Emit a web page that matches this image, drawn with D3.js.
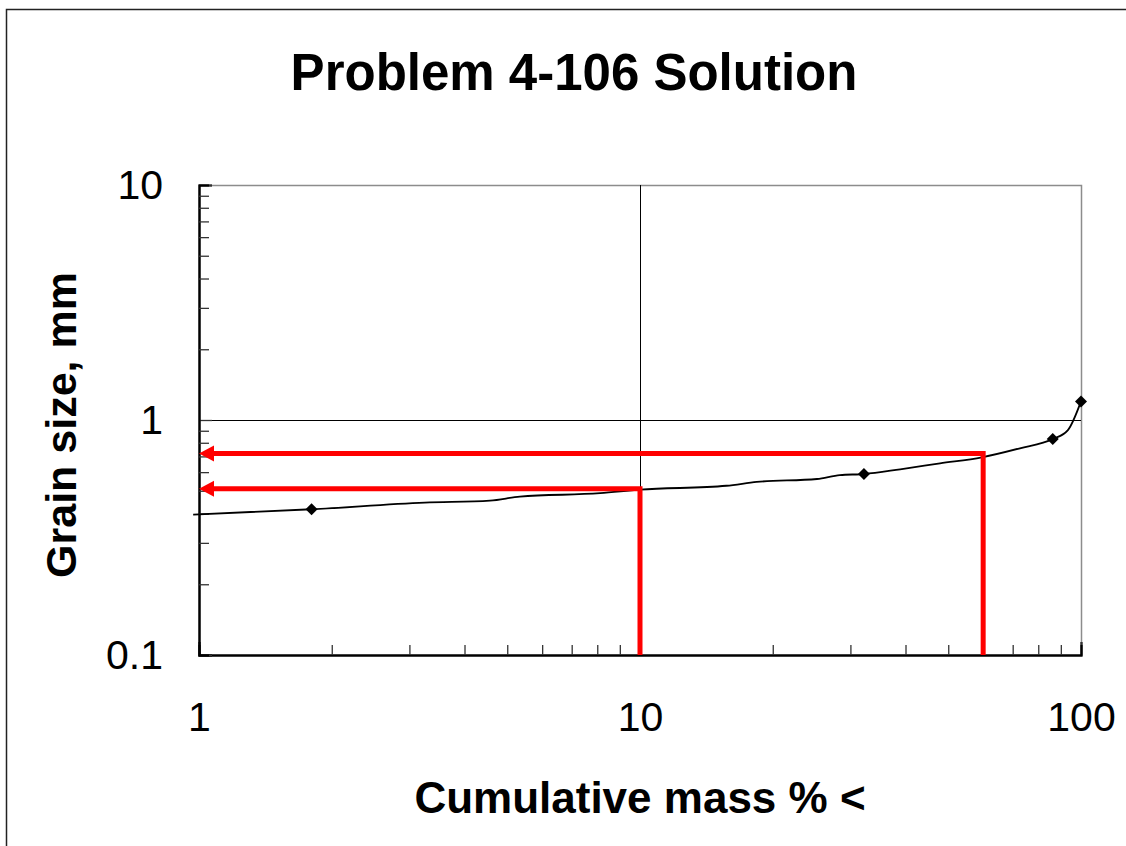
<!DOCTYPE html>
<html>
<head>
<meta charset="utf-8">
<script src="https://cdn.jsdelivr.net/npm/d3@7"></script>
<style>
  html, body { margin: 0; padding: 0; background: #fff; }
  svg { display: block; font-family: "Liberation Sans", Arial, sans-serif; }
</style>
</head>
<body>
<svg id="chart" width="1126" height="846"></svg>
<script>
// Grain size distribution: cumulative mass % finer vs. grain size (mm)
const curveMassPct = [0.97, 1.8, 3.25, 4.57, 5.34, 8.12, 10, 15.7, 18.4, 25.2, 28.4, 32.2, 38.9, 47.9, 59.6, 72.7, 86.3, 93.4, 100];
const curveSizeMm  = [0.396, 0.417, 0.445, 0.454, 0.472, 0.488, 0.505, 0.525, 0.545, 0.561, 0.583, 0.589, 0.617, 0.654, 0.694, 0.758, 0.83, 0.906, 1.2];

// Sieve data points
const sieveMassPct = [1.8, 32.2, 86.3, 100];
const sieveSizeMm  = [0.417, 0.589, 0.83, 1.2];

// Effective size (D10) and D60 read-offs
const readPct  = [10, 60];
const readSize = [0.51, 0.72];

const xMajorTicks = [1, 10, 100];
const xTickLabels = ["1", "10", "100"];
const xMinorTicks = [2, 3, 4, 5, 6, 7, 8, 9, 20, 30, 40, 50, 60, 70, 80, 90];
const yMajorTicks = [0.1, 1, 10];
const yTickLabels = ["0.1", "1", "10"];
const yMinorTicks = [0.2, 0.3, 0.4, 0.5, 0.6, 0.7, 0.8, 0.9, 2, 3, 4, 5, 6, 7, 8, 9];

const svg = d3.select("#chart");
const plot = { left: 199, right: 1081, top: 185, bottom: 655 };

const x = d3.scaleLog().domain([1, 100]).range([plot.left, plot.right]);
const y = d3.scaleLog().domain([0.1, 10]).range([plot.bottom, plot.top]);

// Outer chart frame
svg.append("rect")
  .attr("x", 6.5).attr("y", 9.5)
  .attr("width", 1200).attr("height", 900)
  .attr("fill", "none").attr("stroke", "#222").attr("stroke-width", 1.5);

// Title
svg.append("text")
  .attr("x", 574).attr("y", 90)
  .attr("text-anchor", "middle")
  .attr("font-size", 51).attr("font-weight", "bold")
  .text("Problem 4-106 Solution");

// Plot border (top/right gray)
svg.append("path")
  .attr("d", `M${plot.left},${plot.top + 0.5}H${plot.right + 0.5}V${plot.bottom}`)
  .attr("fill", "none").attr("stroke", "#8c8c8c").attr("stroke-width", 1.5);

// Major gridlines
svg.append("line")
  .attr("x1", x(10) + 0.5).attr("x2", x(10) + 0.5)
  .attr("y1", plot.top).attr("y2", plot.bottom)
  .attr("stroke", "#000").attr("stroke-width", 1);
svg.append("line")
  .attr("x1", plot.left).attr("x2", plot.right)
  .attr("y1", y(1) + 0.5).attr("y2", y(1) + 0.5)
  .attr("stroke", "#000").attr("stroke-width", 1);

// Axes
const fmtX = d => xTickLabels[xMajorTicks.indexOf(d)];
const fmtY = d => yTickLabels[yMajorTicks.indexOf(d)];

const xMajor = svg.append("g").attr("transform", `translate(0,${plot.bottom})`)
  .call(d3.axisBottom(x).tickValues(xMajorTicks).tickFormat(fmtX).tickSize(-13).tickPadding(47));
const xMinor = svg.append("g").attr("transform", `translate(0,${plot.bottom})`)
  .call(d3.axisBottom(x).tickValues(xMinorTicks).tickFormat("").tickSize(-10));
const yMajor = svg.append("g").attr("transform", `translate(${plot.left},0)`)
  .call(d3.axisLeft(y).tickValues(yMajorTicks).tickFormat(fmtY).tickSize(-13).tickPadding(36));
const yMinor = svg.append("g").attr("transform", `translate(${plot.left},0)`)
  .call(d3.axisLeft(y).tickValues(yMinorTicks).tickFormat("").tickSize(-10));

[xMajor, xMinor, yMajor, yMinor].forEach(g => {
  g.select(".domain").attr("stroke", "#000").attr("stroke-width", 2);
  g.selectAll(".tick line").attr("stroke", "#333").attr("stroke-width", 1.3);
  g.selectAll(".tick text")
    .attr("font-family", "Liberation Sans, Arial, sans-serif")
    .attr("font-size", 41).attr("fill", "#000");
});

// Axis titles
svg.append("text")
  .attr("x", 640).attr("y", 813)
  .attr("text-anchor", "middle")
  .attr("font-size", 44).attr("font-weight", "bold")
  .text("Cumulative mass % <");
svg.append("text")
  .attr("transform", "translate(76,425) rotate(-90)")
  .attr("text-anchor", "middle")
  .attr("font-size", 43).attr("font-weight", "bold")
  .text("Grain size, mm");

// Fitted distribution curve
const curvePts = curveMassPct.map((p, i) => [p, curveSizeMm[i]]);
svg.append("path")
  .datum(curvePts)
  .attr("fill", "none").attr("stroke", "#000").attr("stroke-width", 1.8)
  .attr("d", d3.line().x(d => x(d[0])).y(d => y(d[1])).curve(d3.curveMonotoneX));

// Read-off arrows (red)
const headLen = 15, headHalf = 8;
readPct.forEach((p, i) => {
  const px = x(p), py = y(readSize[i]);
  svg.append("path")
    .attr("d", `M${px},${y(0.1)}V${py}H${x(1) + headLen - 1}`)
    .attr("fill", "none").attr("stroke", "#ff0000")
    .attr("stroke-width", 5).attr("stroke-linejoin", "miter");
  svg.append("path")
    .attr("d", `M${x(1)},${py}L${x(1) + headLen},${py - headHalf}L${x(1) + headLen},${py + headHalf}Z`)
    .attr("fill", "#ff0000");
});

// Sieve data markers (diamonds)
svg.append("g").selectAll("path")
  .data(sieveMassPct.map((p, i) => [p, sieveSizeMm[i]]))
  .join("path")
  .attr("transform", d => `translate(${x(d[0])},${y(d[1])}) rotate(45)`)
  .attr("d", d3.symbol(d3.symbolSquare, 72))
  .attr("fill", "#000");
</script>
</body>
</html>
